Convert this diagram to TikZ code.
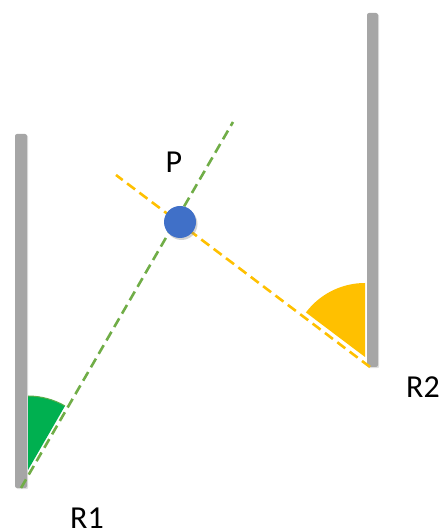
\documentclass[tikz,border=0pt]{standalone}
\usepackage{fontspec}
\setmainfont{Carlito}
\usetikzlibrary{shadows}
\definecolor{barGray}{RGB}{166,166,166}
\definecolor{secGreen}{RGB}{0,176,80}
\definecolor{lineGreen}{RGB}{112,173,71}
\definecolor{secYellow}{RGB}{255,192,0}
\definecolor{ballBlue}{RGB}{64,112,200}
\tikzset{
  bar/.style={fill=barGray, rounded corners=2pt, drop shadow={opacity=0.25, shadow xshift=1.2pt, shadow yshift=-1.2pt}},
  gdash/.style={draw=lineGreen, line width=2.6pt, dash pattern=on 10pt off 5.5pt},
  ydash/.style={draw=secYellow, line width=2.6pt, dash pattern=on 10pt off 5.5pt},
  lbl/.style={font=\fontsize{32}{38}\selectfont, text=black, inner sep=0pt}
}
\begin{document}
\begin{tikzpicture}[x=1pt,y=1pt]
\useasboundingbox (0,0) rectangle (445,532);
% bars
\fill[bar] (15,44) rectangle (27,398);
\fill[bar] (367,165) rectangle (378,519);
% sectors
\coordinate (g0) at (28,62);
\coordinate (y0) at (365,175);
\fill[secGreen] (g0) -- ++(90:74) arc[start angle=90, end angle=60, radius=74] -- cycle;
\draw[lineGreen!80!secGreen, line width=1pt] (g0) ++(90:74) arc[start angle=90, end angle=60, radius=74];
\fill[secYellow] (y0) -- ++(90:74) arc[start angle=90, end angle=143, radius=74] -- cycle;
% dashed lines
\coordinate (r1) at (21,44);
\coordinate (gtop) at (233,410);
\coordinate (r2) at (370,165);
\coordinate (ytop) at (116,357);
\draw[gdash] (r1) -- (gtop);
\draw[ydash] (r2) -- (ytop);
% ball
\node[circle, minimum size=32pt, inner sep=0pt, fill=ballBlue,
  drop shadow={opacity=0.35, shadow xshift=1.5pt, shadow yshift=-2pt}] (ball) at (180,310) {};
% labels
\node[lbl] (P) at (174,370) {P};
\node[lbl] (R1) at (87,14) {R1};
\node[lbl] (R2) at (423,145) {R2};
\end{tikzpicture}
\end{document}
